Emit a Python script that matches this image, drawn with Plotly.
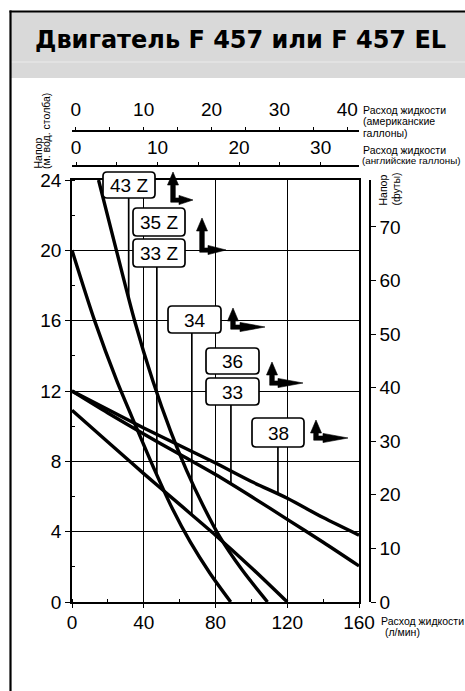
import numpy as np
import plotly.graph_objects as go

# ---------------- data ----------------
flow_43z = [14.8, 25, 34.9, 45, 55, 63.8, 73, 82.4, 95, 109]
head_43z = [24, 19.9, 16.0, 12.6, 9.7, 7.5, 5.5, 3.7, 1.8, 0]

flow_35z_33z = [0, 12.6, 24.9, 36, 46.1, 56, 66, 76.8, 88.5]
head_35z_33z = [20, 16, 12.6, 9.9, 7.5, 5.3, 3.4, 1.65, 0]

flow_38 = [0, 20, 40, 60, 80, 100, 120, 140, 160]
head_38 = [12, 10.95, 9.9, 8.9, 7.9, 6.85, 5.9, 4.8, 3.8]

flow_36_33 = [0, 20, 40, 60, 80, 100, 120, 140, 160]
head_36_33 = [12, 10.75, 9.55, 8.4, 7.25, 6.0, 4.7, 3.4, 2.05]

flow_34 = [0, 20, 40, 60, 80, 100, 120]
head_34 = [10.9, 9.1, 7.3, 5.55, 3.8, 1.95, 0]

lpm_ticks = [0, 40, 80, 120, 160]
head_m_ticks = [0, 4, 8, 12, 16, 20, 24]
head_ft_ticks = [0, 10, 20, 30, 40, 50, 60, 70]
usg_ticks = [0, 10, 20, 30, 40]
ukg_ticks = [0, 10, 20, 30]

LPM_PER_USG = 3.785
LPM_PER_UKG = 4.546
FT_PER_M = 3.281

title_text = "Двигатель F 457 или F 457 EL"

# ---------------- layout geometry (pixels) ----------------
W, H = 465, 691
L, R, T, B = 72, 95, 131, 89
PW, PH = W - L - R, H - T - B
X_RIGHT = 359          # px of 160 l/min
Y_TOP = 180            # px of 24 m
X_DOM = (X_RIGHT - L) / PW
Y_DOM = (H - B - Y_TOP) / PH
Y_SCALE = (H - B - Y_TOP) / 24.0


def px(x):
    return (x - L) / PW


def py(y):
    return (H - B - y) / PH


def y_px_to_data(y):
    return (H - B - y) / Y_SCALE


FONT = "Liberation Sans, Arial, sans-serif"

fig = go.Figure()

curves = [
    (flow_43z, head_43z),
    (flow_35z_33z, head_35z_33z),
    (flow_38, head_38),
    (flow_36_33, head_36_33),
    (flow_34, head_34),
]
for fx, fy in curves:
    fig.add_trace(go.Scatter(x=fx, y=fy, mode="lines",
                             line=dict(color="black", width=3.4, shape="spline", smoothing=0.8),
                             showlegend=False, hoverinfo="skip"))

# empty traces so the secondary axes are drawn
fig.add_trace(go.Scatter(x=[None], y=[None], xaxis="x2", yaxis="y", showlegend=False, hoverinfo="skip"))
fig.add_trace(go.Scatter(x=[None], y=[None], xaxis="x3", yaxis="y", showlegend=False, hoverinfo="skip"))
fig.add_trace(go.Scatter(x=[None], y=[None], xaxis="x", yaxis="y2", showlegend=False, hoverinfo="skip"))

shapes = []
annotations = []

# header band and frame
shapes.append(dict(type="rect", xref="paper", yref="paper", x0=px(11), x1=px(480), y0=py(12), y1=py(78),
                   fillcolor="#d9d9d9", line=dict(width=0), layer="below"))
shapes.append(dict(type="line", xref="paper", yref="paper", x0=px(11), x1=px(480), y0=py(62), y1=py(62),
                   line=dict(color="#ececec", width=1.2), layer="below"))
shapes.append(dict(type="line", xref="paper", yref="paper", x0=px(10.5), x1=px(10.5), y0=py(10.5), y1=py(700),
                   line=dict(color="black", width=2.2), layer="above"))
shapes.append(dict(type="line", xref="paper", yref="paper", x0=px(9.5), x1=px(480), y0=py(11.5), y1=py(11.5),
                   line=dict(color="black", width=2.2), layer="above"))

annotations.append(dict(text="<b>" + title_text + "</b>", xref="paper", yref="paper",
                        x=px(240), y=py(40), xanchor="center", yanchor="middle", showarrow=False,
                        font=dict(family="DejaVu Sans, sans-serif", size=24, color="black")))

# leaders (vertical lines from label boxes to curves)
leaders = [
    (31.6, 198, flow_43z, head_43z),
    (47.3, 267, flow_35z_33z, head_35z_33z),
    (66.8, 333, flow_34, head_34),
    (88.6, 405, flow_36_33, head_36_33),
    (114.8, 447, flow_38, head_38),
]
for lx, top_px, fx, fy in leaders:
    y_end = float(np.interp(lx, fx, fy))
    shapes.append(dict(type="line", xref="x", yref="y", x0=lx, x1=lx, y0=y_end, y1=y_px_to_data(top_px),
                       line=dict(color="black", width=1.7), layer="above"))


def rrect(x0, y0, x1, y1, r=4):
    X = lambda v: f"{px(v):.5f}"
    Y = lambda v: f"{py(v):.5f}"
    return (f"M {X(x0 + r)},{Y(y0)} L {X(x1 - r)},{Y(y0)} Q {X(x1)},{Y(y0)} {X(x1)},{Y(y0 + r)} "
            f"L {X(x1)},{Y(y1 - r)} Q {X(x1)},{Y(y1)} {X(x1 - r)},{Y(y1)} "
            f"L {X(x0 + r)},{Y(y1)} Q {X(x0)},{Y(y1)} {X(x0)},{Y(y1 - r)} "
            f"L {X(x0)},{Y(y0 + r)} Q {X(x0)},{Y(y0)} {X(x0 + r)},{Y(y0)} Z")


boxes = [
    ("43 Z", 103, 172, 155, 198),
    ("35 Z", 133, 208, 185, 236),
    ("33 Z", 133, 239, 185, 267),
    ("34", 168, 306, 221, 333),
    ("36", 206, 348, 259, 374),
    ("33", 206, 378, 259, 405),
    ("38", 252, 418, 304, 447),
]
for lab, x0, y0, x1, y1 in boxes:
    shapes.append(dict(type="path", xref="paper", yref="paper", path=rrect(x0, y0, x1, y1),
                       fillcolor="white", line=dict(color="black", width=1.7), layer="above"))
    annotations.append(dict(text=lab, xref="paper", yref="paper", x=px((x0 + x1) / 2), y=py((y0 + y1) / 2 + 0.5),
                            xanchor="center", yanchor="middle", showarrow=False,
                            font=dict(family=FONT, size=19, color="black")))

# L-shaped arrow glyphs
arrows = [
    (173, 200, 172, 193),
    (202, 250, 218, 226),
    (233, 327, 308, 265),
    (272, 383, 362, 303),
    (316, 438, 420, 348),
]
for cx, cy, ay, tip in arrows:
    hl = min(25, tip - cx - 6)
    hx = tip - hl
    pts = [(cx - 2.3, cy + 2.2), (cx - 2.3, ay + 13), (cx - 5.5, ay + 13), (cx, ay), (cx + 5.5, ay + 13),
           (cx + 2.3, ay + 13), (cx + 2.3, cy - 2.0), (hx, cy - 2.0), (hx, cy - 4.6), (tip, cy), (hx, cy + 4.6),
           (hx, cy + 2.2)]
    path = "M " + " L ".join(f"{px(a):.5f},{py(b):.5f}" for a, b in pts) + " Z"
    shapes.append(dict(type="path", xref="paper", yref="paper", path=path,
                       fillcolor="black", line=dict(color="black", width=0.6), layer="above"))

# axis captions
for txt, xx, yy, fs in [("Расход жидкости", 361, 110.5, 10.5), ("(американские", 361, 121.5, 10.5),
                        ("галлоны)", 361, 132.5, 10.5),
                        ("Расход жидкости", 361, 149.5, 10.5), ("(английские галлоны)", 360, 160.5, 9.8),
                        ("Расход жидкости", 379, 621, 10.5), ("(л/мин)", 383, 632, 10.5)]:
    annotations.append(dict(text=txt, xref="paper", yref="paper", x=px(xx), y=py(yy), xanchor="left",
                            yanchor="middle", showarrow=False, font=dict(family=FONT, size=fs, color="black")))
for txt, xx, yb in [("Напор", 37, 171), ("(м. вод. столба)", 46, 171), ("Напор", 382, 208), ("(футы)", 395, 208)]:
    annotations.append(dict(text=txt, xref="paper", yref="paper", x=px(xx), y=py(yb), xanchor="center",
                            yanchor="bottom", textangle=-90, showarrow=False, font=dict(family=FONT, size=10.5, color="black")))

tickfont = dict(family=FONT, size=19, color="black")
common = dict(showline=True, linecolor="black", linewidth=1.5, ticks="outside", tickcolor="black",
              tickwidth=1.3, tickfont=tickfont, zeroline=False)

usg_max = 160 / LPM_PER_USG
ukg_max = 160 / LPM_PER_UKG
fig.update_layout(
    width=W, height=H, margin=dict(l=L, r=R, t=T, b=B, autoexpand=False),
    paper_bgcolor="white", plot_bgcolor="white",
    shapes=shapes, annotations=annotations, showlegend=False,
    xaxis=dict(range=[0, 160], domain=[0, X_DOM], tickvals=lpm_ticks, ticklen=4, mirror=True,
               showgrid=True, gridcolor="black", gridwidth=1.3, anchor="y", ticklabelstandoff=-2,
               minor=dict(dtick=20, ticks="inside", ticklen=3, tickcolor="black", showgrid=False), **common),
    yaxis=dict(range=[0, 24], domain=[0, Y_DOM], tickvals=head_m_ticks, ticklen=5, mirror=True,
               showgrid=True, gridcolor="black", gridwidth=1.3, anchor="x",
               minor=dict(dtick=2, ticks="inside", ticklen=3, tickcolor="black", showgrid=False), **common),
    xaxis2=dict(range=[-0.55, usg_max - 0.55], overlaying="x", side="top", anchor="free", position=1,
                tickvals=usg_ticks, ticklen=3, showgrid=False, ticklabelstandoff=4,
                minor=dict(dtick=5, ticks="outside", ticklen=3, tickcolor="black"), **common),
    xaxis3=dict(range=[-0.49, ukg_max - 0.49], overlaying="x", side="top", anchor="free", position=py(166),
                tickvals=ukg_ticks, ticklen=3, showgrid=False, ticklabelstandoff=1,
                minor=dict(dtick=5, ticks="outside", ticklen=3, tickcolor="black"), **common),
    yaxis2=dict(range=[0, 24 * FT_PER_M], overlaying="y", side="right", anchor="free", position=1,
                tickvals=head_ft_ticks, ticklen=5, showgrid=False, **common),
)

fig.write_html("out.html", config={"displayModeBar": False},
               post_script="document.body.style.margin='0px';document.body.style.overflow='hidden';")
